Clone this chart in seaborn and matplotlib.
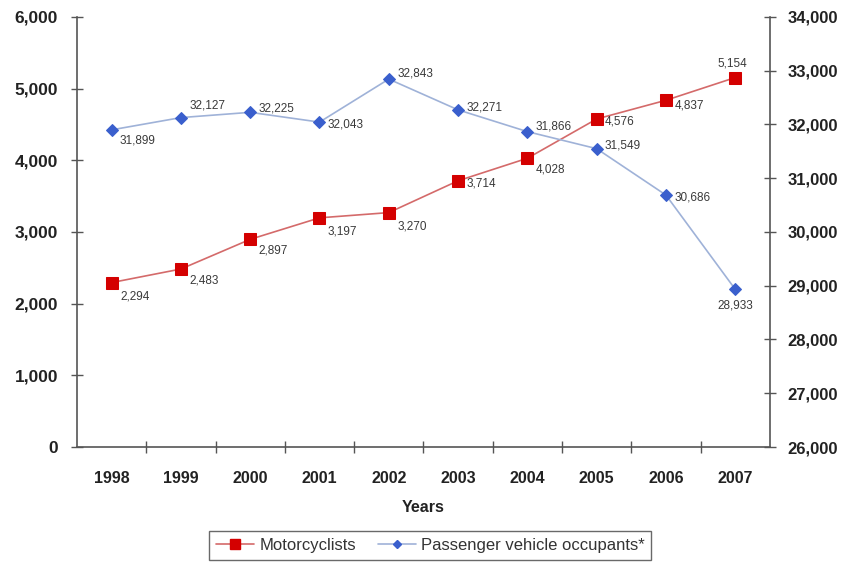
import matplotlib
matplotlib.use("Agg")
import matplotlib.pyplot as plt
import seaborn as sns
import pandas as pd
from matplotlib.lines import Line2D

years = ["1998", "1999", "2000", "2001", "2002", "2003", "2004", "2005", "2006", "2007"]
motorcyclists = [2294, 2483, 2897, 3197, 3270, 3714, 4028, 4576, 4837, 5154]
passenger = [31899, 32127, 32225, 32043, 32843, 32271, 31866, 31549, 30686, 28933]

left_ticks = [0, 1000, 2000, 3000, 4000, 5000, 6000]
right_ticks = [26000, 27000, 28000, 29000, 30000, 31000, 32000, 33000, 34000]

# label offsets in points (dx, dy) and alignment for each point
moto_offsets = [(6, -10, "left"), (6, -8, "left"), (6, -8, "left"), (6, -10, "left"),
                (6, -10, "left"), (6, -2, "left"), (6, -8, "left"), (6, -2, "left"),
                (6, -4, "left"), (-2, 10, "center")]
pass_offsets = [(6, -8, "left"), (6, 9, "left"), (6, 3, "left"), (6, -2, "left"),
                (6, 4, "left"), (6, 2, "left"), (6, 4, "left"), (6, 2, "left"),
                (6, -2, "left"), (0, -12, "center")]

sns.set_style("white")
plt.rcParams["font.family"] = ["Liberation Sans", "DejaVu Sans"]

df = pd.DataFrame({"x": range(len(years)), "moto": motorcyclists, "pass": passenger})

fig = plt.figure(figsize=(8.44, 5.63), dpi=100)
ax = fig.add_axes([0.0912, 0.206, 0.821, 0.764])
ax2 = ax.twinx()

red_line, red_mark = "#d46a6a", "#d40000"
blue_line, blue_mark = "#9fb2d8", "#3a5fcd"
axis_col = "#555555"
text_col = "#3a3a3a"

sns.lineplot(data=df, x="x", y="moto", ax=ax, color=red_line, linewidth=1.2,
             marker="s", markersize=8, markerfacecolor=red_mark,
             markeredgecolor=red_mark, zorder=3)
sns.lineplot(data=df, x="x", y="pass", ax=ax2, color=blue_line, linewidth=1.2,
             marker="D", markersize=6, markerfacecolor=blue_mark,
             markeredgecolor=blue_mark, zorder=3)

for i, v in enumerate(motorcyclists):
    dx, dy, ha = moto_offsets[i]
    ax.annotate(f"{v:,}", (i, v), xytext=(dx, dy), textcoords="offset points",
                ha=ha, va="center", fontsize=8.5, color=text_col)
for i, v in enumerate(passenger):
    dx, dy, ha = pass_offsets[i]
    ax2.annotate(f"{v:,}", (i, v), xytext=(dx, dy), textcoords="offset points",
                 ha=ha, va="center", fontsize=8.5, color=text_col)

ax.set_xlim(-0.5, len(years) - 0.5)
ax.set_ylim(0, 6000)
ax2.set_ylim(26000, 34000)

ax.set_xticks(range(len(years)))
ax.set_xticklabels(years)
ax.set_yticks(left_ticks)
ax.set_yticklabels([f"{t:,}" for t in left_ticks])
ax2.set_yticks(right_ticks)
ax2.set_yticklabels([f"{t:,}" for t in right_ticks])

for a in (ax, ax2):
    for s in a.spines.values():
        s.set_color(axis_col)
        s.set_linewidth(1.2)
    a.spines["top"].set_visible(False)
    a.set_ylabel("")
ax.spines["right"].set_visible(False)
ax2.spines["left"].set_visible(False)
ax2.spines["bottom"].set_visible(False)

ax.tick_params(axis="y", direction="inout", length=9, width=1, color=axis_col,
               labelsize=12.5, labelcolor="#222222", pad=9, left=True)
ax2.tick_params(axis="y", direction="inout", length=9, width=1, color=axis_col,
                labelsize=12, labelcolor="#222222", pad=8, right=True)
ax.tick_params(axis="x", length=0, labelsize=11.5, labelcolor="#222222", pad=17)
for lab in ax.get_yticklabels() + ax.get_xticklabels() + ax2.get_yticklabels():
    lab.set_fontweight("bold")

# minor ticks between categories on the x axis
ax.set_xticks([i + 0.5 for i in range(len(years) - 1)], minor=True)
ax.tick_params(axis="x", which="minor", direction="inout", length=9, width=1,
               color=axis_col, bottom=True)

ax.set_xlabel("Years", fontsize=11.5, fontweight="bold", color="#222222", labelpad=10)

handles = [
    Line2D([0], [0], color=red_line, marker="s", markersize=7,
           markerfacecolor=red_mark, markeredgecolor=red_mark, linewidth=1.2),
    Line2D([0], [0], color=blue_line, marker="D", markersize=4,
           markerfacecolor=blue_mark, markeredgecolor=blue_mark, linewidth=1.2),
]
leg = fig.legend(handles, ["Motorcyclists", "Passenger vehicle occupants*"],
                 loc="center", bbox_to_anchor=(0.510, 0.031), ncol=2,
                 frameon=True, fancybox=False, fontsize=12, handlelength=2.3,
                 handletextpad=0.3, columnspacing=1.3, borderpad=0.4)
leg.get_frame().set_edgecolor("#444444")
leg.get_frame().set_linewidth(1.0)
for t in leg.get_texts():
    t.set_color("#333333")

fig.savefig("out.png", dpi=100)
